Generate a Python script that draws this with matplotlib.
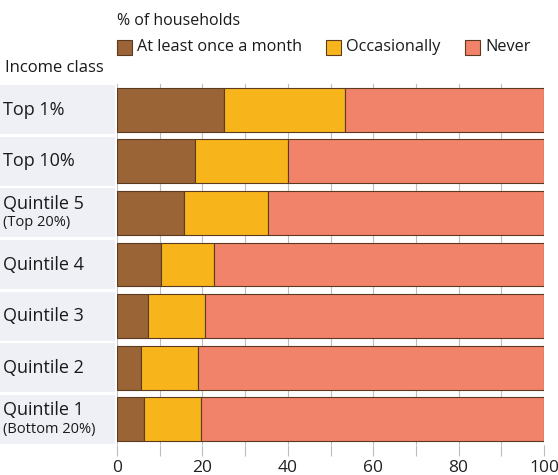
import matplotlib
matplotlib.use("Agg")
import matplotlib.pyplot as plt
from matplotlib.patches import Rectangle
from matplotlib.transforms import blended_transform_factory
import numpy as np

plt.rcParams['font.family'] = ['Open Sans', 'DejaVu Sans']

# data (% of households)
classes = ["Top 1%", "Top 10%", "Quintile 5", "Quintile 4", "Quintile 3", "Quintile 2", "Quintile 1"]
sublabels = ["", "", "(Top 20%)", "", "", "", "(Bottom 20%)"]
monthly = [25.1, 18.2, 15.8, 10.4, 7.3, 5.6, 6.3]
occasional = [28.3, 21.8, 19.5, 12.4, 13.3, 13.4, 13.4]
never = [100 - m - o for m, o in zip(monthly, occasional)]
series = ["At least once a month", "Occasionally", "Never"]
colors = ["#9a6437", "#f8b51b", "#f2836b"]
edge = "#5b3a1f"
ticks = [0, 20, 40, 60, 80, 100]

fig = plt.figure(figsize=(5.58, 4.75), dpi=100)
ax = fig.add_axes([117 / 558, 1 - 445 / 475, 427 / 558, 361 / 475])

y = np.arange(len(classes))
left = np.zeros(len(classes))
for vals, c, name in zip([monthly, occasional, never], colors, series):
    ax.barh(y, vals, left=left, height=0.85, color=c, edgecolor=edge,
            linewidth=0.8, label=name, zorder=3)
    left += np.array(vals)

ax.set_xlim(0, 100)
ax.set_ylim(len(classes) - 0.5, -0.5)
ax.set_xticks(ticks)
ax.set_xticks(np.arange(0, 101, 10), minor=True)
ax.grid(axis='x', which='both', color='#bdbdbd', linewidth=0.8, zorder=0)
ax.tick_params(axis='x', which='both', length=8, color='#bdbdbd', width=0.8,
               labelsize=12.5, labelcolor='#222222', pad=3)
ax.set_yticks([])
for s in ax.spines.values():
    s.set_visible(False)

# label bands and row labels
trans = blended_transform_factory(ax.transAxes, ax.transData)
band_w = 117 / 427
for i, (lab, sub) in enumerate(zip(classes, sublabels)):
    ax.add_patch(Rectangle((-band_w, i - 0.475), band_w - 0.004, 0.95, transform=trans,
                           facecolor='#eef0f5', edgecolor='none', clip_on=False, zorder=0))
    x0 = -band_w + 3 / 427
    if sub:
        ax.text(x0, i - 0.18, lab, transform=trans, ha='left', va='center',
                fontsize=13, color='#1a1a1a')
        ax.text(x0, i + 0.19, sub, transform=trans, ha='left', va='center',
                fontsize=10.5, color='#1a1a1a')
    else:
        ax.text(x0, i, lab, transform=trans, ha='left', va='center',
                fontsize=13, color='#1a1a1a')

# legend drawn by hand
fig.text(117 / 558, 1 - 21 / 475, "% of households", ha='left', va='center',
         fontsize=11.5, color='#1a1a1a')
sw_x = [117, 326, 465]
for sx, c, name in zip(sw_x, colors, series):
    fig.patches.append(Rectangle((sx / 558, 1 - 55 / 475), 15 / 558, 15 / 475,
                                 transform=fig.transFigure, facecolor=c,
                                 edgecolor=edge, linewidth=0.8))
    fig.text((sx + 20) / 558, 1 - 47 / 475, name, ha='left', va='center',
             fontsize=11.7, color='#1a1a1a')
fig.text(5 / 558, 1 - 68 / 475, "Income class", ha='left', va='center',
         fontsize=12, color='#1a1a1a')

fig.savefig("out.png", dpi=100, facecolor='white')
